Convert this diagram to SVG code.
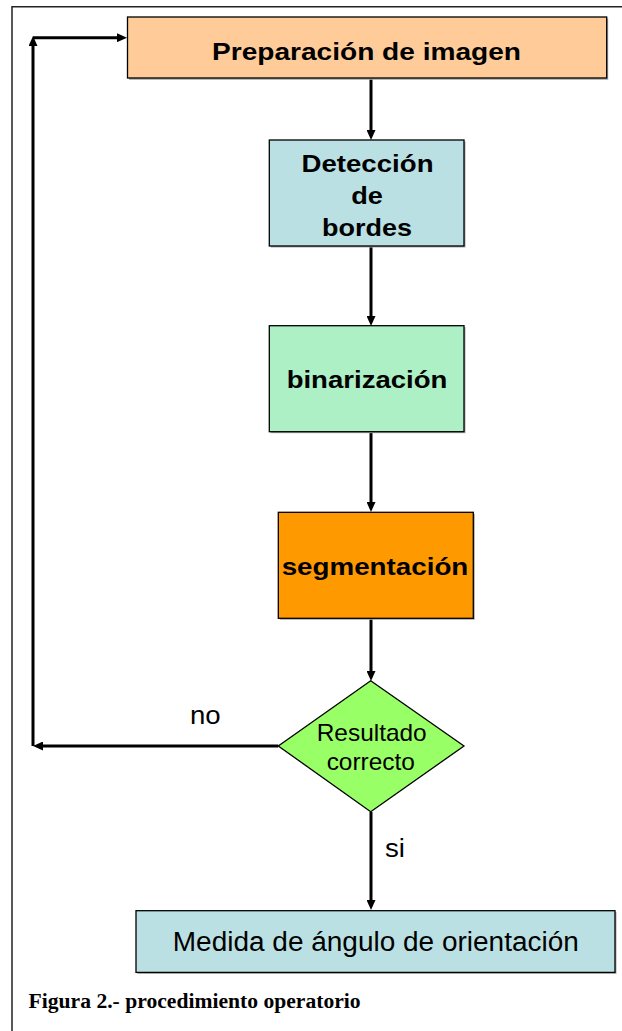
<svg xmlns="http://www.w3.org/2000/svg" width="622" height="1031" viewBox="0 0 622 1031">
<style>
.box{stroke:#000;stroke-width:1.3}
.shadow{fill:#a8a8a8}
.conn{stroke:#000;stroke-width:3;fill:none}
.b{font-family:"Liberation Sans",Arial,sans-serif;font-weight:bold;font-size:24.5px;fill:#000;text-anchor:middle}
.r{font-family:"Liberation Sans",Arial,sans-serif;font-size:24px;fill:#000;text-anchor:middle}
.lbl{font-family:"Liberation Sans",Arial,sans-serif;font-size:26px;fill:#000}
.cap{font-family:"Liberation Serif","Times New Roman",serif;font-weight:bold;font-size:20px;fill:#000}
</style>
<defs>
<marker id="ah" markerUnits="userSpaceOnUse" viewBox="0 0 10 9" markerWidth="10" markerHeight="9" refX="4" refY="4.5" orient="auto">
<path d="M0,0 L10,4.5 L0,9 z" fill="#000"/>
</marker>
</defs>
<rect width="622" height="1031" fill="#fff"/>
<g id="frame">
<path d="M12,1031 V6.7 H622" fill="none" stroke="#222" stroke-width="1.5"/>
</g>
<g id="connectors">
<line class="conn" x1="371" y1="78" x2="371" y2="134" marker-end="url(#ah)"/>
<line class="conn" x1="371" y1="246" x2="371" y2="320" marker-end="url(#ah)"/>
<line class="conn" x1="371" y1="432" x2="371" y2="506" marker-end="url(#ah)"/>
<line class="conn" x1="371" y1="618" x2="371" y2="675" marker-end="url(#ah)"/>
<line class="conn" x1="371" y1="812" x2="371" y2="904" marker-end="url(#ah)"/>
<line class="conn" x1="278.3" y1="746" x2="39" y2="746" marker-end="url(#ah)"/>
<line class="conn" x1="33" y1="746" x2="33" y2="42" marker-end="url(#ah)"/>
<line class="conn" x1="33" y1="37.7" x2="121" y2="37.7" marker-end="url(#ah)"/>
<text class="lbl" x="190" y="724.3" textLength="30.7" lengthAdjust="spacingAndGlyphs">no</text>
<text class="lbl" x="385" y="857.3" textLength="20" lengthAdjust="spacingAndGlyphs">si</text>
</g>
<g id="preparacion">
<rect class="shadow" x="129" y="18.5" width="479.2" height="61.3"/>
<rect class="box" x="127.5" y="17" width="479.2" height="61" fill="#FFCC99"/>
<text class="b" x="366.5" y="60" textLength="309" lengthAdjust="spacingAndGlyphs">Preparación de imagen</text>
</g>
<g id="deteccion">
<rect class="shadow" x="270.8" y="141.5" width="194.7" height="106"/>
<rect class="box" x="269.3" y="140" width="194.7" height="106" fill="#BBE0E3"/>
<text class="b" x="367.5" y="171.7" textLength="132" lengthAdjust="spacingAndGlyphs">Detección</text>
<text class="b" x="367" y="204" textLength="31.7" lengthAdjust="spacingAndGlyphs">de</text>
<text class="b" x="367" y="236" textLength="90" lengthAdjust="spacingAndGlyphs">bordes</text>
</g>
<g id="binarizacion">
<rect class="shadow" x="270.8" y="327.2" width="194.7" height="106"/>
<rect class="box" x="269.3" y="325.7" width="194.7" height="106" fill="#ADF0C6"/>
<text class="b" x="367" y="388.3" textLength="160.7" lengthAdjust="spacingAndGlyphs">binarización</text>
</g>
<g id="segmentacion">
<rect class="shadow" x="279.8" y="513.8" width="195" height="106"/>
<rect class="box" x="278.3" y="512.3" width="195" height="106" fill="#FF9900"/>
<text class="b" x="375" y="575" textLength="186.7" lengthAdjust="spacingAndGlyphs">segmentación</text>
</g>
<g id="resultado">
<polygon class="box" points="370.7,680.7 464,746 370.7,811.7 278.3,746" fill="#99FF66"/>
<text class="r" x="371.7" y="741" textLength="110" lengthAdjust="spacingAndGlyphs">Resultado</text>
<text class="r" x="370.8" y="770" textLength="88.3" lengthAdjust="spacingAndGlyphs">correcto</text>
</g>
<g id="medida">
<rect class="shadow" x="137.5" y="912.2" width="479" height="61.7"/>
<rect class="box" x="136" y="910.7" width="479" height="61.7" fill="#BBE0E3"/>
<text class="r" x="375.8" y="950.7" style="font-size:27px" textLength="406" lengthAdjust="spacingAndGlyphs">Medida de ángulo de orientación</text>
</g>
<g id="caption">
<text class="cap" x="28.6" y="1007.5" textLength="332" lengthAdjust="spacingAndGlyphs">Figura 2.- procedimiento operatorio</text>
</g>
</svg>
